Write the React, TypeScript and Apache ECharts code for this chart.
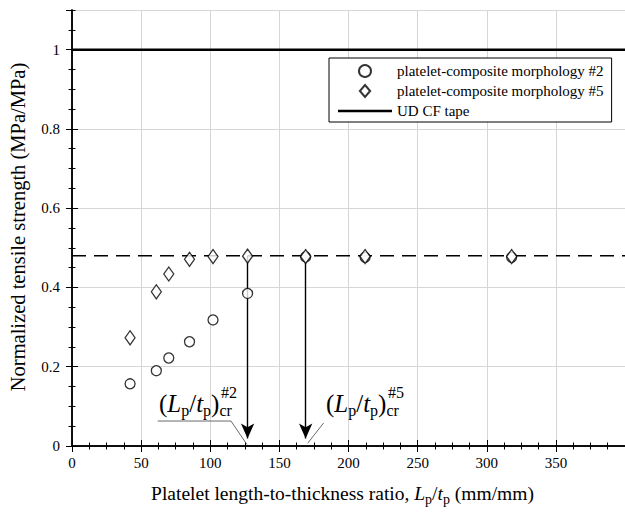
import React, { useEffect, useRef } from 'react';
import * as echarts from 'echarts';

const ratio = [42, 61, 70, 85, 102, 127, 169, 212, 318];
const morph2 = [0.157, 0.19, 0.222, 0.263, 0.318, 0.385, 0.477, 0.476, 0.476];
const morph5 = [0.273, 0.389, 0.434, 0.471, 0.478, 0.479, 0.478, 0.478, 0.478];
const criticalRatios = [127, 169];
const plateau = 0.48;
const udTape = 1;
const xRange = [0, 400];
const yRange = [0, 1.1];
const xMajor = 50;
const xMinor = 12.5;
const yMajor = 0.2;
const yMinor = 0.05;
const seriesNames = [
  'platelet-composite morphology #2',
  'platelet-composite morphology #5',
  'UD CF tape',
];
const yTitle = 'Normalized tensile strength (MPa/MPa)';
const critLabels = ['#2', '#5'];
const leader2 = [[62, 0.063], [115, 0.063], [126.5, 0.004]];
const leader5 = [[170.5, 0.007], [182, 0.058]];

const FONT = "'Liberation Serif', 'Times New Roman', serif";

function xAxisDef(position: string, interval: number, major: boolean, withLabels: boolean, extra: any = {}) {
  return {
    type: 'value',
    position,
    min: xRange[0],
    max: xRange[1],
    interval,
    axisLine: { show: major, lineStyle: { color: '#000', width: 1.5 } },
    axisTick: { show: true, inside: true, length: major ? 6 : 3.5, lineStyle: { color: '#000', width: 1 } },
    axisLabel: {
      show: withLabels,
      color: '#000',
      fontFamily: FONT,
      fontSize: 15,
      margin: 9,
      showMaxLabel: false,
    },
    splitLine: { show: withLabels, lineStyle: { color: '#d6d6d6', width: 1 } },
    ...extra,
  };
}

function yAxisDef(position: string, interval: number, major: boolean, withLabels: boolean, extra: any = {}) {
  return {
    type: 'value',
    position,
    min: yRange[0],
    max: yRange[1],
    interval,
    axisLine: { show: major, lineStyle: { color: '#000', width: 1.5 } },
    axisTick: { show: true, inside: true, length: major ? 6 : 3.5, lineStyle: { color: '#000', width: 1 } },
    axisLabel: {
      show: withLabels,
      color: '#000',
      fontFamily: FONT,
      fontSize: 15,
      margin: 12,
      showMaxLabel: false,
    },
    splitLine: { show: withLabels, lineStyle: { color: '#d6d6d6', width: 1 } },
    ...extra,
  };
}

function annotation(x: number, top: number, sup: string) {
  return {
    type: 'group',
    children: [
      {
        type: 'text',
        x,
        y: top,
        z: 100,
        style: {
          text: '{n|(}{i|L}{s|p}{n|/}{i|t}{s|p}{n|)}{s|cr}',
          align: 'left',
          verticalAlign: 'top',
          rich: {
            n: { fontFamily: FONT, fontSize: 25, lineHeight: 30, verticalAlign: 'middle', fill: '#000' },
            i: { fontFamily: FONT, fontSize: 25, lineHeight: 30, verticalAlign: 'middle', fontStyle: 'italic', fill: '#000' },
            s: { fontFamily: FONT, fontSize: 16, lineHeight: 20, verticalAlign: 'bottom', fill: '#000' },
          },
        },
      },
      {
        type: 'text',
        x: x + 62,
        y: top - 6,
        z: 100,
        style: {
          text: '{u|' + sup + '}',
          align: 'left',
          verticalAlign: 'top',
          rich: {
            u: { fontFamily: FONT, fontSize: 16, lineHeight: 20, verticalAlign: 'middle', fill: '#000' },
          },
        },
      },
    ],
  };
}

export default function App() {
  const ref = useRef<HTMLDivElement>(null);
  useEffect(() => {
    if (!ref.current) return;
    const chart = echarts.init(ref.current, null, { renderer: 'svg' });
    const option: any = {
      animation: false,
      backgroundColor: '#fff',
      textStyle: { fontFamily: FONT, color: '#000' },
      grid: { left: 72, top: 10, width: 556, height: 436 },
      legend: {
        data: [
          { name: seriesNames[0], icon: 'circle' },
          { name: seriesNames[1], icon: 'path://M6,0 L12,7 L6,14 L0,7 Z' },
          { name: seriesNames[2], icon: 'path://M0,0 L54,0 L54,2.5 L0,2.5 Z' },
        ],
        orient: 'vertical',
        left: 329,
        top: 58,
        itemWidth: 54,
        itemHeight: 12,
        itemGap: 4,
        padding: [5, 8, 3, 9],
        backgroundColor: '#fff',
        borderColor: '#000',
        borderWidth: 1,
        borderRadius: 0,
        textStyle: { fontFamily: FONT, fontSize: 15, color: '#000', lineHeight: 16 },
        z: 50,
      },
      xAxis: [
        xAxisDef('bottom', xMajor, true, true, {
          name: '{n|Platelet length-to-thickness ratio, }{i|L}{s|p}{n|/}{i|t}{s|p}{n| (mm/mm)}',
          nameLocation: 'middle',
          nameGap: 34,
          nameTextStyle: {
            color: '#000',
            fontFamily: FONT,
            fontSize: 19.5,
            padding: [0, 12, 0, 0],
            rich: {
              n: { fontFamily: FONT, fontSize: 19.5, lineHeight: 26, verticalAlign: 'middle', color: '#000' },
              i: { fontFamily: FONT, fontSize: 19.5, lineHeight: 26, verticalAlign: 'middle', fontStyle: 'italic', color: '#000' },
              s: { fontFamily: FONT, fontSize: 14, lineHeight: 10, verticalAlign: 'bottom', color: '#000' },
            },
          },
        }),
        xAxisDef('bottom', xMinor, false, false),
        xAxisDef('top', xMajor, true, false),
        xAxisDef('top', xMinor, false, false),
      ],
      yAxis: [
        yAxisDef('left', yMajor, true, true),
        yAxisDef('left', yMinor, false, false),
        yAxisDef('right', yMajor, true, false),
        yAxisDef('right', yMinor, false, false),
      ],
      series: [
        {
          name: seriesNames[0],
          type: 'scatter',
          symbol: 'circle',
          symbolSize: 10,
          itemStyle: { color: '#fff', borderColor: '#000', borderWidth: 1.3 },
          data: ratio.map((x, i) => [x, morph2[i]]),
          z: 10,
        },
        {
          name: seriesNames[1],
          type: 'scatter',
          symbol: 'diamond',
          symbolSize: [10, 14],
          itemStyle: { color: '#fff', borderColor: '#000', borderWidth: 1.3 },
          data: ratio.map((x, i) => [x, morph5[i]]),
          z: 11,
        },
        {
          name: seriesNames[2],
          type: 'line',
          symbol: 'none',
          lineStyle: { color: '#000', width: 2.5 },
          itemStyle: { color: '#000', borderWidth: 0 },
          data: [[xRange[0], udTape], [xRange[1], udTape]],
          z: 5,
        },
        {
          name: 'plateau',
          type: 'line',
          symbol: 'none',
          lineStyle: { color: '#000', width: 1.5, type: [14, 8] },
          data: [[xRange[0], plateau], [xRange[1], plateau]],
          z: 4,
          markLine: {
            silent: true,
            symbol: ['none', 'arrow'],
            symbolSize: [10, 15],
            label: { show: false },
            lineStyle: { color: '#000', width: 1.4, type: 'solid' },
            data: criticalRatios.map((c) => [
              { coord: [c, plateau] },
              { coord: [c, 0.019] },
            ]),
          },
        },
        {
          name: 'leader2',
          type: 'line',
          symbol: 'none',
          lineStyle: { color: '#444', width: 0.8 },
          data: leader2,
          z: 3,
        },
        {
          name: 'leader5',
          type: 'line',
          symbol: 'none',
          lineStyle: { color: '#444', width: 0.8 },
          data: leader5,
          z: 3,
        },
      ],
      graphic: [
        {
          type: 'text',
          x: 18,
          y: 227,
          rotation: Math.PI / 2,
          z: 100,
          style: {
            text: yTitle,
            align: 'center',
            verticalAlign: 'middle',
            fontFamily: FONT,
            fontSize: 20.5,
            fill: '#000',
          },
        },
        annotation(159, 388, critLabels[0]),
        annotation(326, 388, critLabels[1]),
      ],
    };
    chart.setOption(option);
    return () => chart.dispose();
  }, []);
  return (
    <div
      ref={ref}
      style={{ position: 'fixed', left: 0, top: 0, width: 625, height: 515, background: '#fff' }}
    />
  );
}
